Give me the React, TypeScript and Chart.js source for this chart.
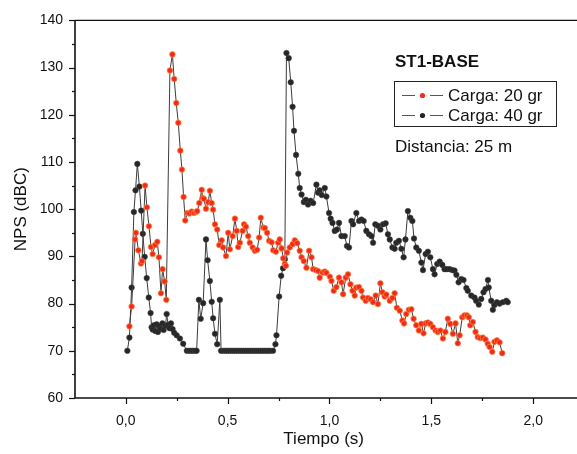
import React, { useEffect, useRef } from 'react';
import { Chart, registerables } from 'chart.js';

Chart.register(...registerables);

const FONT = '"Liberation Sans", Arial, Helvetica, sans-serif';

const X_TITLE = 'Tiempo (s)';
const Y_TITLE = 'NPS (dBC)';
const PANEL_TITLE = 'ST1-BASE';
const NOTE = 'Distancia: 25 m';
const SERIES_LABELS = ['Carga: 20 gr', 'Carga: 40 gr'];

// Carga: 20 gr (red)
const RED_T = [
  0.018, 0.029, 0.046, 0.050, 0.062, 0.075, 0.080, 0.095, 0.104, 0.114,
  0.124, 0.132, 0.144, 0.155, 0.163, 0.173, 0.181, 0.191, 0.199, 0.217,
  0.229, 0.238, 0.248, 0.258, 0.268, 0.276, 0.284, 0.292, 0.302, 0.312,
  0.324, 0.335, 0.345, 0.351, 0.361, 0.373, 0.377, 0.384, 0.394, 0.405,
  0.413, 0.422, 0.429, 0.438, 0.449, 0.459, 0.471, 0.478, 0.492, 0.503,
  0.511, 0.525, 0.536, 0.545, 0.552, 0.560, 0.574, 0.581, 0.590, 0.601,
  0.609, 0.623, 0.634, 0.645, 0.655, 0.663, 0.675, 0.683, 0.694, 0.704,
  0.716, 0.724, 0.737, 0.748, 0.756, 0.765, 0.773, 0.781, 0.786, 0.792,
  0.805, 0.819, 0.830, 0.842, 0.854, 0.863, 0.874, 0.887, 0.900, 0.912,
  0.920, 0.933, 0.944, 0.952, 0.966, 0.977, 0.985, 1.002, 1.010, 1.021,
  1.034, 1.047, 1.059, 1.067, 1.080, 1.091, 1.103, 1.113, 1.124, 1.132,
  1.145, 1.157, 1.165, 1.178, 1.189, 1.202, 1.214, 1.227, 1.238, 1.250,
  1.260, 1.271, 1.279, 1.296, 1.309, 1.320, 1.331, 1.345, 1.358, 1.366,
  1.377, 1.390, 1.402, 1.413, 1.426, 1.439, 1.451, 1.462, 1.472, 1.483,
  1.495, 1.508, 1.521, 1.532, 1.544, 1.557, 1.569, 1.581, 1.593, 1.606,
  1.619, 1.630, 1.639, 1.652, 1.663, 1.675, 1.684, 1.691, 1.704, 1.717,
  1.728, 1.740, 1.753, 1.766, 1.777, 1.786, 1.799, 1.810, 1.822, 1.835,
  1.848,
];
const RED_NPS = [
  75.2, 79.4, 93.6, 95, 91.3, 88.5, 89, 105, 100.4, 96.4,
  92, 90.5, 92.4, 93.1, 89.8, 82.2, 87.3, 84.7, 80.8, 129.4,
  132.8, 127.6, 122.5, 118.3, 112.4, 108.4, 102.6, 97.6, 99.2, 99.1,
  99.5, 99.2, 99.4, 99.6, 101.3, 104.1, 102.4, 102.2, 100.1, 101.5,
  103.9, 101.3, 99.9, 96.8, 95.7, 92.4, 93.4, 91.9, 90.1, 95,
  91.5, 94.3, 98, 95.4, 92, 92.9, 95.4, 96.8, 96.3, 94.3,
  92.9, 91.9, 91.2, 91.4, 94, 98.2, 96.1, 96, 95, 93.3,
  93, 91.3, 91, 92.9, 93.6, 91.7, 89.6, 88.4, 88, 90.8,
  91.9, 92.6, 93.4, 92.8, 91.2, 89.8, 89, 87.6, 91.2, 89.8,
  87.3, 87.1, 86.9, 85.5, 86.6, 86.8, 86.5, 85.7, 84.8, 82.7,
  83.5, 85.5, 84.5, 82, 85.5, 86.2, 84.1, 82.7, 81.7, 83.4,
  83.5, 82.7, 81.3, 80.6, 81.2, 80.9, 80.3, 81.7, 79.9, 84.3,
  82.4, 81.5, 81.9, 80.6, 81.2, 82.2, 79.1, 78.5, 76.4, 75.8,
  77.8, 78.7, 78.8, 76.8, 75.4, 74.3, 75.7, 73.7, 75.8, 76,
  75.7, 75, 74.3, 74, 74.3, 72.6, 74, 76.8, 75.7, 73.6,
  75.8, 71.6, 73.3, 77.1, 77.5, 77.5, 77.1, 75.4, 76.1, 74,
  72.9, 72.7, 72.8, 72.4, 71.5, 70.8, 69.8, 71.9, 72.2, 71.8,
  69.5,
];

// Carga: 40 gr (black)
const BLACK_T = [
  0.008, 0.018, 0.029, 0.040, 0.048, 0.057, 0.067, 0.076, 0.084, 0.093,
  0.103, 0.113, 0.122, 0.127, 0.132, 0.138, 0.145, 0.152, 0.158, 0.165,
  0.172, 0.180, 0.186, 0.195, 0.201, 0.208, 0.215, 0.222, 0.230, 0.238,
  0.250, 0.266, 0.282, 0.300, 0.310, 0.320, 0.330, 0.340, 0.348, 0.359,
  0.368, 0.380, 0.394, 0.402, 0.413, 0.422, 0.429, 0.438, 0.449, 0.462,
  0.468, 0.480, 0.490, 0.500, 0.510, 0.520, 0.530, 0.540, 0.550, 0.560,
  0.570, 0.580, 0.590, 0.600, 0.610, 0.620, 0.630, 0.640, 0.650, 0.660,
  0.670, 0.680, 0.690, 0.700, 0.710, 0.723, 0.735, 0.740, 0.753, 0.763,
  0.772, 0.781, 0.789, 0.800, 0.810, 0.819, 0.826, 0.836, 0.847, 0.854,
  0.863, 0.874, 0.884, 0.895, 0.907, 0.920, 0.936, 0.944, 0.952, 0.962,
  0.977, 0.985, 0.998, 1.006, 1.015, 1.026, 1.037, 1.047, 1.059, 1.075,
  1.086, 1.096, 1.108, 1.116, 1.132, 1.145, 1.157, 1.168, 1.181, 1.194,
  1.206, 1.214, 1.225, 1.238, 1.250, 1.263, 1.276, 1.287, 1.296, 1.309,
  1.320, 1.328, 1.341, 1.353, 1.364, 1.373, 1.385, 1.397, 1.407, 1.415,
  1.426, 1.439, 1.451, 1.459, 1.472, 1.483, 1.495, 1.508, 1.516, 1.529,
  1.541, 1.554, 1.565, 1.576, 1.590, 1.603, 1.614, 1.623, 1.634, 1.647,
  1.658, 1.672, 1.679, 1.696, 1.712, 1.720, 1.733, 1.745, 1.756, 1.766,
  1.778, 1.782, 1.794, 1.802, 1.810, 1.822, 1.835, 1.851, 1.868, 1.875,
];
const BLACK_NPS = [
  70, 72.8, 83.4, 99.4, 104, 109.6, 104.8, 99.7, 94.8, 89.9,
  85.4, 81.3, 78, 75, 74.5, 75.4, 74.2, 75.6, 74.0, 75.2,
  74.6, 75.8, 74.4, 75.3, 77.8, 75.5, 74.8, 75.8, 74.6, 73.8,
  73.3, 72.6, 71.5, 70, 70, 70, 70, 70, 70, 80.8,
  76.8, 80.1, 93.6, 89.2, 84.8, 80.4, 76.9, 73.6, 71.4, 80.8,
  70, 70, 70, 70, 70, 70, 70, 70, 70, 70,
  70, 70, 70, 70, 70, 70, 70, 70, 70, 70,
  70, 70, 70, 70, 70, 70, 71.4, 73.3, 81.5, 85.9,
  87.5, 89.4, 133.1, 132, 126.9, 121.7, 116.6, 111.5, 107.5, 104.5,
  103.1, 101.5, 102, 101, 101.8, 101.3, 105.2, 103.5, 104, 103,
  104.5, 102.7, 99.2, 98, 97.1, 95.4, 95.7, 97.1, 94.3, 94.3,
  92.2, 91.9, 97.5, 96.8, 99.2, 97.5, 97.8, 97.5, 95.4, 94.7,
  94.3, 92.9, 96.8, 96.5, 95.7, 96.8, 97, 94.7, 93.6, 91.9,
  91.6, 92.9, 93.3, 91.6, 89.8, 93.6, 99.6, 98.2, 97.5, 93.8,
  91.9, 91.2, 88.7, 87.1, 90.5, 91, 89.8, 87.3, 86.2, 88.4,
  88.9, 88.2, 87.3, 87.3, 87.3, 87.1, 87, 86.1, 84.5, 85.2,
  85, 83.3, 82.7, 81.7, 81.3, 80.6, 79.8, 81, 82.4, 83.1,
  85, 83.4, 80.6, 78.7, 79.7, 80.3, 80, 80.3, 80.6, 80.3,
];

const RED_FILL = '#f2291f';
const RED_EDGE = '#ff8c3a';
const BLACK_FILL = '#262626';
const LINE_COLOR = '#3c3c3c';

function pairs(ts: number[], vs: number[]) {
  const n = Math.min(ts.length, vs.length);
  const out: { x: number; y: number }[] = [];
  for (let i = 0; i < n; i++) out.push({ x: ts[i], y: vs[i] });
  return out;
}

const framePlugin = {
  id: 'frame',
  afterDraw(chart: any) {
    const { ctx, chartArea, scales } = chart;
    const { left, top, bottom } = chartArea;
    const right = chart.width;
    const xs = scales.x;
    const ys = scales.y;
    ctx.save();
    ctx.strokeStyle = '#111';
    ctx.lineWidth = 1.6;
    ctx.beginPath();
    ctx.moveTo(left, top);
    ctx.lineTo(left, bottom);
    ctx.lineTo(right, bottom);
    ctx.stroke();
    ctx.lineWidth = 1.2;
    ctx.beginPath();
    ctx.moveTo(left, top);
    ctx.lineTo(right, top);
    ctx.stroke();
    // y ticks (major 10, minor 5)
    ctx.lineWidth = 1.2;
    for (let v = ys.min; v <= ys.max + 0.001; v += 5) {
      const py = Math.round(ys.getPixelForValue(v)) + 0.5;
      const len = Math.round(v) % 10 === 0 ? 6 : 3;
      ctx.beginPath();
      ctx.moveTo(left - len, py);
      ctx.lineTo(left, py);
      ctx.stroke();
    }
    // x ticks (major 0.5, minor 0.25)
    for (let k = 0; k * 0.25 <= 2.0 + 1e-6; k++) {
      const t = k * 0.25;
      const px = Math.round(xs.getPixelForValue(t)) + 0.5;
      const len = k % 2 === 0 ? 6 : 3;
      ctx.beginPath();
      ctx.moveTo(px, bottom);
      ctx.lineTo(px, bottom + len);
      ctx.stroke();
    }

    // annotations and legend
    ctx.fillStyle = '#111';
    ctx.textBaseline = 'middle';
    ctx.textAlign = 'left';
    ctx.font = `bold 17px ${FONT}`;
    ctx.fillText(PANEL_TITLE, 395, 62);

    ctx.lineWidth = 1;
    ctx.strokeStyle = '#222';
    ctx.strokeRect(394.5, 81.5, 162, 45);

    const ds = chart.data.datasets;
    const rows = [95, 115];
    ctx.font = `17px ${FONT}`;
    for (let i = 0; i < 2; i++) {
      const yy = rows[i] + 0.5;
      ctx.strokeStyle = '#555';
      ctx.lineWidth = 1;
      ctx.beginPath();
      ctx.moveTo(402, yy);
      ctx.lineTo(415, yy);
      ctx.moveTo(430, yy);
      ctx.lineTo(443, yy);
      ctx.stroke();
      ctx.beginPath();
      ctx.arc(422.5, yy, 2.6, 0, Math.PI * 2);
      ctx.fillStyle = ds[i].pointBackgroundColor;
      ctx.fill();
      ctx.fillStyle = '#111';
      ctx.fillText(SERIES_LABELS[i], 448, rows[i] + 1);
    }
    ctx.fillText(NOTE, 395, 147);
    ctx.restore();
  },
};

export default function App() {
  const ref = useRef<HTMLCanvasElement>(null);
  useEffect(() => {
    if (!ref.current) return;
    Chart.defaults.font.family = FONT;
    const chart = new Chart(ref.current, {
      type: 'scatter',
      data: {
        datasets: [
          {
            label: SERIES_LABELS[0],
            data: pairs(RED_T, RED_NPS),
            showLine: true,
            borderColor: LINE_COLOR,
            borderWidth: 1,
            pointRadius: 2.8,
            pointBackgroundColor: RED_FILL,
            pointBorderColor: RED_EDGE,
            pointBorderWidth: 0.7,
          },
          {
            label: SERIES_LABELS[1],
            data: pairs(BLACK_T, BLACK_NPS),
            showLine: true,
            borderColor: LINE_COLOR,
            borderWidth: 1,
            pointRadius: 2.8,
            pointBackgroundColor: BLACK_FILL,
            pointBorderColor: '#444',
            pointBorderWidth: 0.5,
          },
        ],
      } as any,
      options: {
        animation: false,
        responsive: false,
        devicePixelRatio: 1,
        layout: { padding: { top: 18, right: 0, left: 0, bottom: 0 } },
        plugins: {
          legend: { display: false },
          tooltip: { enabled: false },
        },
        scales: {
          x: {
            type: 'linear',
            min: -0.249,
            max: 2.192,
            grid: { display: false, drawTicks: false },
            border: { display: false },
            ticks: {
              stepSize: 0.5,
              includeBounds: false,
              padding: 15,
              autoSkip: false,
              maxRotation: 0,
              color: '#111',
              font: { size: 14, family: FONT },
              callback: (v: any) => Number(v).toFixed(1).replace('.', ','),
            },
            title: {
              display: true,
              text: X_TITLE,
              color: '#111',
              font: { size: 17, family: FONT },
              padding: { top: 0, bottom: 4 },
            },
            afterFit: (s: any) => {
              s.height = 56;
            },
          },
          y: {
            type: 'linear',
            min: 60,
            max: 140,
            grid: { display: false, drawTicks: false },
            border: { display: false },
            ticks: {
              stepSize: 10,
              padding: 12,
              color: '#111',
              font: { size: 14, family: FONT },
            },
            title: {
              display: true,
              text: Y_TITLE,
              color: '#111',
              font: { size: 17, family: FONT },
              padding: { top: 11, bottom: 0 },
            },
            afterFit: (s: any) => {
              s.width = 75;
            },
          },
        },
      } as any,
      plugins: [framePlugin],
    });
    return () => chart.destroy();
  }, []);
  return (
    <div style={{ position: 'fixed', left: 0, top: 0, width: 577, height: 454, background: '#fff' }}>
      <canvas ref={ref} width={577} height={454} style={{ display: 'block' }} />
    </div>
  );
}
